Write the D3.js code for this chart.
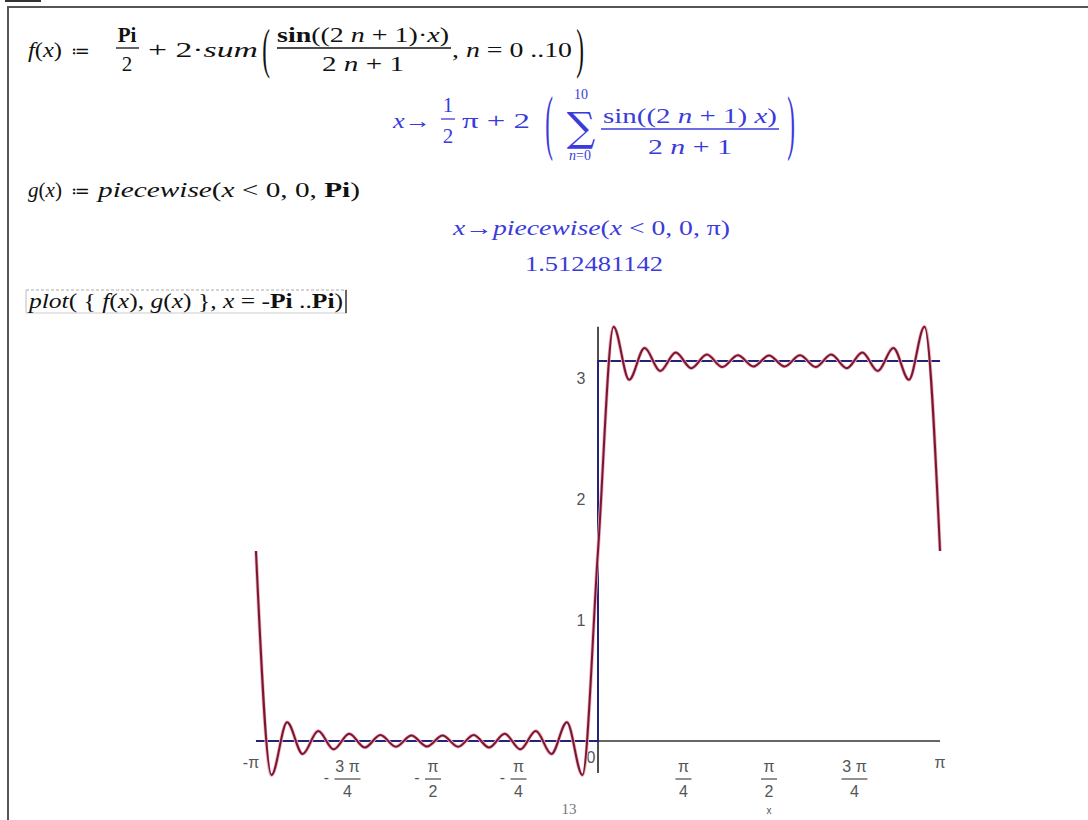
<!DOCTYPE html>
<html>
<head>
<meta charset="utf-8">
<script src="https://cdn.jsdelivr.net/npm/d3@7"></script>
<style>
  body { margin: 0; background: #fff; }
  svg text { font-family: "Liberation Serif", "Times New Roman", serif; }
  .math { font-size: 21px; fill: #111; }
  .out { font-size: 21px; fill: #3b3bdc; }
  .tick { font-family: "Liberation Sans", Arial, sans-serif !important; font-size: 16px; fill: #555; }
</style>
</head>
<body>
<svg id="main" width="1088" height="820"></svg>
<script>
// sample points of f(x) (extrema every pi/22 plus the ends)
const xVals = [-3.142, -2.999, -2.856, -2.713, -2.570, -2.428, -2.285, -2.142, -1.999, -1.856, -1.714,
  -1.571, -1.428, -1.285, -1.142, -1.000, -0.857, -0.714, -0.571, -0.428, -0.286, -0.143,
  0, 0.143, 0.286, 0.428, 0.571, 0.714, 0.857, 1.000, 1.142, 1.285, 1.428,
  1.571, 1.714, 1.856, 1.999, 2.142, 2.285, 2.428, 2.570, 2.713, 2.856, 2.999, 3.142];
const fVals = [1.571, -0.282, 0.155, -0.107, 0.083, -0.069, 0.060, -0.054, 0.050, -0.047, 0.046,
  -0.045, 0.046, -0.047, 0.050, -0.054, 0.060, -0.069, 0.083, -0.107, 0.155, -0.282,
  1.571, 3.424, 2.987, 3.249, 3.059, 3.211, 3.082, 3.195, 3.092, 3.189, 3.096,
  3.187, 3.096, 3.189, 3.092, 3.195, 3.082, 3.211, 3.059, 3.249, 2.987, 3.424, 1.571];
// g(x) = piecewise(x<0, 0, Pi)
const gX = [-3.142, 0, 0, 3.142];
const gVals = [0, 0, 3.142, 3.142];

const xTicks = [-3.1416, -2.3562, -1.5708, -0.7854, 0.7854, 1.5708, 2.3562, 3.1416];
const xTickLabels = ["-π", "-3π/4", "-π/2", "-π/4", "π/4", "π/2", "3π/4", "π"];
const yTicks = [1, 2, 3];

const svg = d3.select('svg#main');

// worksheet frame
svg.append("line").attr("x1", 5).attr("x2", 41).attr("y1", 1).attr("y2", 1)
  .attr("stroke", "#333").attr("stroke-width", 2);
svg.append("path").attr("d", "M8,820V7H1088")
  .attr("fill", "none").attr("stroke", "#555").attr("stroke-width", 2);

// ---------- math text ----------
function txt(x, y, s, cls, anchor) {
  return svg.append("text").attr("x", x).attr("y", y).attr("class", cls)
    .attr("text-anchor", anchor || "start").text(s);
}
// parts: [string, italic, bold]; len = width on the worksheet (glyphs stretched a bit)
function runs(x, y, parts, cls, len, anchor) {
  const t = svg.append("text").attr("x", x).attr("y", y).attr("class", cls)
    .attr("text-anchor", anchor || "start");
  if (len) t.attr("textLength", len).attr("lengthAdjust", "spacingAndGlyphs");
  parts.forEach(p => {
    t.append("tspan").attr("font-style", p[1] ? "italic" : "normal")
      .attr("font-weight", p[2] ? "bold" : "normal").text(p[0]);
  });
  return t;
}
function bar(x1, x2, y, col) {
  svg.append("line").attr("x1", x1).attr("x2", x2).attr("y1", y).attr("y2", y)
    .attr("stroke", col).attr("stroke-width", 1.3);
}
function paren(x, yMid, s, h, cls) {
  svg.append("text").attr("class", cls).attr("text-anchor", "middle")
    .attr("transform", `translate(${x},${yMid}) scale(1.1,${h})`)
    .attr("y", 6).text(s);
}

// line 1
runs(28, 57, [["f", 1], ["(", 0], ["x", 1], [")", 0]], "math", 34);
txt(71, 57, "≔", "math").style("font-family", "DejaVu Serif").style("font-size", "18px");
runs(127, 42, [["Pi", 0, 1]], "math", 0, "middle");
bar(116, 139, 48, "#111");
txt(127, 71, "2", "math", "middle");
runs(148, 57, [["+ 2·", 0], ["sum", 1]], "math", 110);
paren(266, 51, "(", 2.6, "math");
runs(363, 42, [["sin", 0, 1], ["((2 ", 0], ["n", 1], [" + 1)·", 0], ["x", 1], [")", 0]], "math", 172, "middle");
bar(277, 451, 48, "#111");
runs(363, 71, [["2 ", 0], ["n", 1], [" + 1", 0]], "math", 82, "middle");
runs(452, 57, [[", ", 0], ["n", 1], [" = 0 ..10", 0]], "math", 120);
paren(580, 51, ")", 2.6, "math");

// line 2 (output)
runs(393, 128, [["x", 1], ["→", 0]], "out", 38);
txt(448, 112, "1", "out", "middle");
bar(441, 455, 119, "#3b3bdc");
txt(448, 143, "2", "out", "middle");
runs(462, 128, [["π + 2", 0]], "out", 68);
paren(549, 126, "(", 3.4, "out");
txt(581, 141, "∑", "out", "middle").style("font-size", "40px").style("font-family", "DejaVu Serif");
txt(581, 99, "10", "out", "middle").style("font-size", "14px");
runs(580, 160, [["n", 1], ["=0", 0]], "out", 0, "middle").style("font-size", "14px");
runs(690, 123, [["sin", 0], ["((2 ", 0], ["n", 1], [" + 1) ", 0], ["x", 1], [")", 0]], "out", 174, "middle");
bar(601, 779, 129, "#3b3bdc");
runs(690, 154, [["2 ", 0], ["n", 1], [" + 1", 0]], "out", 84, "middle");
paren(791, 126, ")", 3.4, "out");

// line 3
runs(28, 197, [["g", 1], ["(", 0], ["x", 1], [")", 0]], "math", 34);
txt(71, 197, "≔", "math").style("font-family", "DejaVu Serif").style("font-size", "18px");
runs(98, 197, [["piecewise", 1], ["(", 0], ["x", 1], [" < 0, 0, ", 0], ["Pi", 0, 1], [")", 0]], "math", 262);

// line 4, 5
runs(453, 235, [["x", 1], ["→", 0], ["piecewise", 1], ["(", 0], ["x", 1], [" < 0, 0, π)", 0]], "out", 277);
runs(525, 271, [["1.512481142", 0]], "out", 138);

// line 6: input in box
svg.append("line").attr("x1", 26).attr("x2", 347).attr("y1", 290).attr("y2", 290)
  .attr("stroke", "#aaa").attr("stroke-dasharray", "3,2");
svg.append("line").attr("x1", 26).attr("x2", 26).attr("y1", 290).attr("y2", 313).attr("stroke", "#bbb");
svg.append("line").attr("x1", 26).attr("x2", 347).attr("y1", 313).attr("y2", 313).attr("stroke", "#ccc");
svg.append("line").attr("x1", 346).attr("x2", 346).attr("y1", 290).attr("y2", 313)
  .attr("stroke", "#333").attr("stroke-width", 1.5);
runs(29, 308, [["plot", 1], ["( { ", 0], ["f", 1], ["(", 0], ["x", 1], ["), ", 0], ["g", 1], ["(", 0], ["x", 1],
  [") }, ", 0], ["x", 1], [" = -", 0], ["Pi", 0, 1], [" ..", 0], ["Pi", 0, 1], [")", 0]], "math", 314);

// ---------- plot ----------
const xAx = d3.scaleLinear().domain([-Math.PI, Math.PI]).range([256, 940]);
const yAx = d3.scaleLinear().domain([0, Math.PI]).range([741, 361]);

// axes
svg.append("line").attr("x1", xAx(-Math.PI)).attr("x2", xAx(Math.PI))
  .attr("y1", yAx(0)).attr("y2", yAx(0)).attr("stroke", "#333").attr("stroke-width", 1.6);
svg.append("line").attr("x1", xAx(0)).attr("x2", xAx(0))
  .attr("y1", yAx(3.424)).attr("y2", yAx(-0.265)).attr("stroke", "#222").attr("stroke-width", 1.6);

// y tick labels
svg.selectAll(".ylab").data(yTicks).enter().append("text")
  .attr("class", "tick").attr("text-anchor", "middle")
  .attr("x", xAx(0) - 17).attr("y", d => yAx(d) + 6).text(d => d);
svg.append("text").attr("class", "tick").attr("x", xAx(0) - 7).attr("y", yAx(0) + 22)
  .attr("text-anchor", "middle").text("0");

// x tick labels (fractions)
const xl = svg.selectAll(".xlab").data(xTicks).enter().append("g")
  .attr("transform", d => `translate(${xAx(d)},${yAx(0)})`);
xl.each(function (d, i) {
  const g = d3.select(this);
  let lab = xTickLabels[i];
  const neg = lab[0] === "-";
  if (neg) lab = lab.slice(1);
  const parts = lab.split("/");
  if (parts.length === 1) {
    g.append("text").attr("class", "tick").attr("text-anchor", "middle")
      .attr("x", neg ? -5 : 0).attr("y", 27).text((neg ? "-" : "") + parts[0]);
    return;
  }
  const num = parts[0].replace("3π", "3 π");
  const off = neg ? 6 : 0;
  const w = num.length > 1 ? 13 : 8;
  g.append("text").attr("class", "tick").attr("text-anchor", "middle")
    .attr("x", off).attr("y", 31).text(num);
  g.append("line").attr("x1", off - w).attr("x2", off + w).attr("y1", 38).attr("y2", 38)
    .attr("stroke", "#555").attr("stroke-width", 1.3);
  g.append("text").attr("class", "tick").attr("text-anchor", "middle")
    .attr("x", off).attr("y", 56).text(parts[1]);
  if (neg) g.append("text").attr("class", "tick").attr("text-anchor", "middle")
    .attr("x", off - w - 8).attr("y", 42).text("-");
});
svg.append("text").attr("class", "tick").attr("x", xAx(Math.PI / 2)).attr("y", 814)
  .attr("text-anchor", "middle").style("font-size", "10px").text("x");

// g(x)
const gData = gX.map((x, i) => ({ x: x, y: gVals[i] }));
svg.append("path").datum(gData)
  .attr("d", d3.line().x(d => xAx(d.x)).y(d => yAx(d.y)))
  .attr("fill", "none").attr("stroke", "#23237a").attr("stroke-width", 2);

// f(x)
const fData = xVals.map((x, i) => ({ x: x, y: fVals[i] }));
const line = d3.line().curve(d3.curveMonotoneX).x(d => xAx(d.x)).y(d => yAx(d.y));
svg.append("path").datum(fData).attr("d", line)
  .attr("fill", "none").attr("stroke", "#e8b4c0").attr("stroke-width", 3.6);
svg.append("path").datum(fData).attr("d", line)
  .attr("fill", "none").attr("stroke", "#7d1530").attr("stroke-width", 2);

// page number
svg.append("text").attr("x", 569).attr("y", 814).attr("text-anchor", "middle")
  .style("font-size", "15px").attr("fill", "#777").text("13");
</script>
</body>
</html>
